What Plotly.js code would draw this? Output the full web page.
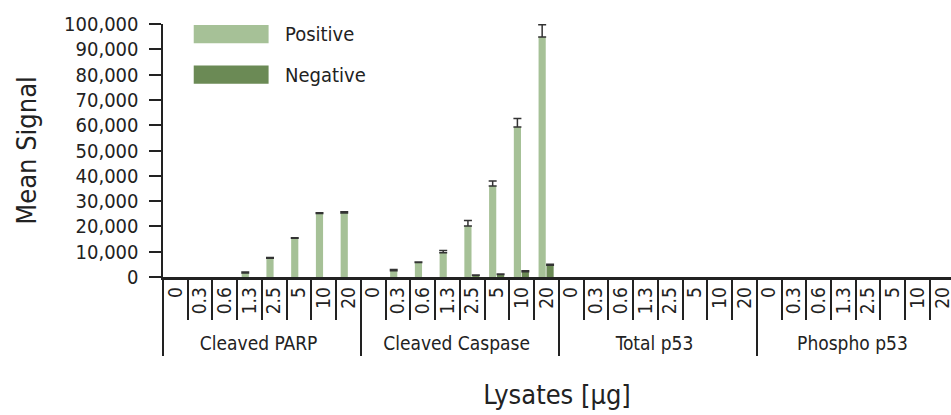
<!DOCTYPE html>
<html>
<head>
<meta charset="utf-8">
<script src="https://cdn.plot.ly/plotly-3.0.1.min.js"></script>
<style>html,body{margin:0;padding:0;background:#fff;}#chart{width:951px;height:415px;}</style>
</head>
<body>
<div id="chart"></div>
<script>
// ---- data ----
var groups = ['Cleaved PARP', 'Cleaved Caspase', 'Total p53', 'Phospho p53'];
var doses = ['0', '0.3', '0.6', '1.3', '2.5', '5', '10', '20'];

var parpPos     = [0, 0, 0, 1600, 7400, 15300, 25100, 25300];
var parpPosErr  = [null, null, null, 400, 300, 200, 300, 500];
var parpNeg     = [0, 0, 0, 0, 0, 0, 0, 0];
var parpNegErr  = [null, null, null, null, null, null, null, null];

var caspPos     = [0, 2500, 5700, 9600, 20200, 36000, 59300, 94900];
var caspPosErr  = [null, 500, 200, 900, 2100, 1900, 3300, 4800];
var caspNeg     = [0, 0, 0, 0, 700, 1000, 2100, 4600];
var caspNegErr  = [null, null, null, null, 100, 200, 400, 400];

var tp53Pos     = [0, 0, 0, 0, 0, 0, 0, 0];
var tp53Neg     = [0, 0, 0, 0, 0, 0, 0, 0];
var pp53Pos     = [0, 0, 0, 0, 0, 0, 0, 0];
var pp53Neg     = [0, 0, 0, 0, 0, 0, 0, 0];
var noErr       = [null, null, null, null, null, null, null, null];

var seriesNames = ['Positive', 'Negative'];
var colors = ['#a6c197', '#6b8a55'];

// ---- build multicategory x ----
var outer = [], inner = [];
groups.forEach(function (g) { doses.forEach(function (d) { outer.push(g); inner.push(d); }); });

var posVals = parpPos.concat(caspPos, tp53Pos, pp53Pos);
var posErr = parpPosErr.concat(caspPosErr, noErr, noErr);
var negVals = parpNeg.concat(caspNeg, tp53Neg, pp53Neg);
var negErr = parpNegErr.concat(caspNegErr, noErr, noErr);

var FONT = 'DejaVu Sans Condensed, Liberation Sans Narrow, sans-serif';
var INK = '#222222';

function errObj(arr) {
  // missing error values -> NaN so no error bar is drawn for them
  return {type: 'data', symmetric: false,
          array: arr.map(function (v) { return v === null ? NaN : v; }),
          arrayminus: arr.map(function (v) { return v === null ? NaN : 0; }),
          color: '#333333', thickness: 1.5, width: 4, visible: true};
}

var traces = [
  {type: 'bar', name: seriesNames[0], x: [outer, inner], y: posVals, marker: {color: colors[0], line: {width: 0}},
   width: 0.29, offset: -0.32, error_y: errObj(posErr), showlegend: false, hoverinfo: 'y'},
  {type: 'bar', name: seriesNames[1], x: [outer, inner], y: negVals, marker: {color: colors[1], line: {width: 0}},
   width: 0.29, offset: 0.0, error_y: errObj(negErr), showlegend: false, hoverinfo: 'y'}
];

// legend drawn as swatches + labels (paper coords)
var shapes = [], annotations = [];
var legY = [0.96, 0.80];
seriesNames.forEach(function (n, i) {
  shapes.push({type: 'rect', xref: 'paper', yref: 'paper', x0: 0.039, x1: 0.134,
               y0: legY[i] - 0.036, y1: legY[i] + 0.036, fillcolor: colors[i], line: {width: 0}});
  annotations.push({xref: 'paper', yref: 'paper', x: 0.152, y: legY[i], xanchor: 'left', yanchor: 'middle',
                    text: n, showarrow: false, font: {family: FONT, size: 20, color: INK}});
});

var layout = {
  width: 951, height: 415,
  margin: {l: 163, r: 0, t: 24, b: 138, pad: 0},
  paper_bgcolor: '#ffffff', plot_bgcolor: '#ffffff',
  font: {family: FONT, color: INK},
  barmode: 'overlay',
  showlegend: false,
  xaxis: {
    type: 'multicategory',
    range: [-0.5, 31.35],
    showline: true, linecolor: INK, linewidth: 2.5,
    ticks: 'outside', tickson: 'boundaries', ticklen: 40, tickwidth: 2, tickcolor: INK,
    tickangle: -90, tickfont: {family: FONT, size: 19, color: INK},
    showdividers: true, dividercolor: INK, dividerwidth: 2,
    showgrid: false, zeroline: false,
    title: {text: 'Lysates [μg]', font: {family: FONT, size: 27, color: INK}, standoff: 32}
  },
  yaxis: {
    range: [0, 100000],
    tickvals: [0, 10000, 20000, 30000, 40000, 50000, 60000, 70000, 80000, 90000, 100000],
    tickformat: ',d',
    showline: true, linecolor: INK, linewidth: 2.5,
    ticks: 'outside', ticklen: 12, tickwidth: 2, tickcolor: INK,
    tickfont: {family: FONT, size: 20, color: INK},
    ticklabelstandoff: 6,
    showgrid: false, zeroline: false,
    title: {text: 'Mean Signal', font: {family: FONT, size: 27, color: INK}, standoff: 20}
  },
  shapes: shapes,
  annotations: annotations
};

Plotly.newPlot('chart', traces, layout, {staticPlot: true, displayModeBar: false});
</script>
</body>
</html>
